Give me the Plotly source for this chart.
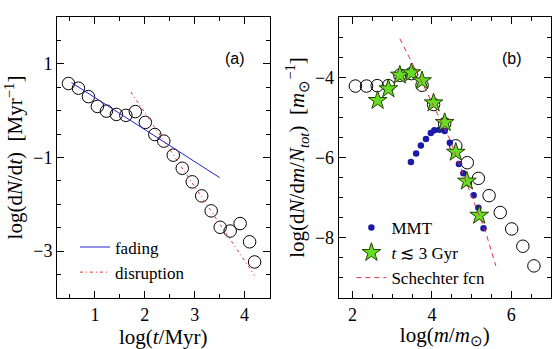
import plotly.graph_objects as go

# ---- panel (a) data ----
a_logt = [0.47, 0.67, 0.87, 1.05, 1.23, 1.43, 1.62, 1.81, 2.01, 2.20, 2.38, 2.57,
          2.75, 2.95, 3.14, 3.33, 3.51, 3.71, 3.91, 4.10, 4.20]
a_logdndt = [0.58, 0.48, 0.30, 0.09, -0.01, -0.08, -0.10, -0.02, -0.25, -0.51, -0.65, -0.95,
             -1.23, -1.52, -1.82, -2.14, -2.49, -2.57, -2.41, -2.80, -3.23]
fading_x = [0.53, 3.50]
fading_y = [0.60, -1.43]
disruption_x = [1.72, 4.20]
disruption_y = [0.40, -3.52]

# ---- panel (b) data ----
b_logm = [2.07, 2.35, 2.62, 2.90, 3.19, 3.48, 3.75, 4.04, 4.32, 4.60, 4.89, 5.17,
          5.44, 5.72, 6.01, 6.29, 6.57]
b_logdndm = [-4.22, -4.22, -4.21, -4.21, -3.95, -3.91, -4.20, -4.68, -5.16, -5.71, -6.13, -6.52,
             -6.95, -7.37, -7.78, -8.21, -8.70]
young_logm = [2.63, 2.90, 3.19, 3.48, 3.75, 4.04, 4.32, 4.60, 4.88, 5.19]
young_logdndm = [-4.58, -4.29, -3.95, -3.89, -4.09, -4.64, -5.13, -5.87, -6.59, -7.44]
mmt_logm = [3.47, 3.60, 3.72, 3.85, 3.97, 4.06, 4.19, 4.32, 4.45, 4.56, 4.68, 4.79,
            4.93, 5.05, 5.17, 5.30]
mmt_logdndm = [-6.11, -5.90, -5.70, -5.54, -5.39, -5.32, -5.31, -5.34, -5.63, -5.90, -6.16, -6.39,
               -6.65, -6.94, -7.25, -7.76]
sch_logm = [3.19, 3.45, 3.89, 4.43, 4.85, 5.36, 5.61]
sch_logdndm = [-3.04, -3.55, -4.41, -5.51, -6.57, -7.88, -8.70]

SERIF = "Liberation Serif"
fig = go.Figure()

# panel (a)
fig.add_trace(go.Scatter(x=a_logt, y=a_logdndt, mode="markers", showlegend=False,
                         marker=dict(symbol="circle-open", size=12.5, color="black", line=dict(width=1)),
                         xaxis="x", yaxis="y"))
fig.add_trace(go.Scatter(x=fading_x, y=fading_y, mode="lines", name="fading",
                         line=dict(color="#2222cc", width=1), xaxis="x", yaxis="y", legend="legend"))
fig.add_trace(go.Scatter(x=disruption_x, y=disruption_y, mode="lines", name="disruption",
                         line=dict(color="#dd3333", width=1, dash="3px,3px,1px,3px"), xaxis="x", yaxis="y",
                         legend="legend"))

# panel (b)
fig.add_trace(go.Scatter(x=b_logm, y=b_logdndm, mode="markers", showlegend=False,
                         marker=dict(symbol="circle-open", size=12.5, color="black", line=dict(width=1)),
                         xaxis="x2", yaxis="y2"))
fig.add_trace(go.Scatter(x=mmt_logm, y=mmt_logdndm, mode="markers", name="MMT",
                         marker=dict(symbol="circle", size=6.5, color="#1a1aa8"),
                         xaxis="x2", yaxis="y2", legend="legend2"))
fig.add_trace(go.Scatter(x=young_logm, y=young_logdndm, mode="markers", name="<i>t</i> ≲ 3 Gyr",
                         marker=dict(symbol="star", size=14, color="#66dd22",
                                     line=dict(color="#224400", width=1)),
                         xaxis="x2", yaxis="y2", legend="legend2"))
fig.add_trace(go.Scatter(x=sch_logm, y=sch_logdndm, mode="lines", name="Schechter fcn",
                         line=dict(color="#dd3344", width=1, dash="5px,4px"),
                         xaxis="x2", yaxis="y2", legend="legend2"))

tickfont = dict(family=SERIF, size=18, color="black")
titlefont = dict(family=SERIF, size=21, color="black")
common = dict(showgrid=False, zeroline=False, showline=True, linecolor="black", linewidth=1,
              mirror="allticks", ticks="inside", ticklen=7, tickcolor="black", tickfont=tickfont)

fig.update_layout(
    width=560, height=349,
    margin=dict(l=57, r=8, t=17, b=45),
    paper_bgcolor="white", plot_bgcolor="white",
    font=dict(family=SERIF, color="black"),
    xaxis=dict(domain=[0, 0.4303], range=[0.24, 4.5], tickvals=[1, 2, 3, 4], ticktext=["1", "2", "3", "4"],
               minor=dict(dtick=0.5, tick0=0, ticks="inside", ticklen=4, tickcolor="black"),
               title=dict(text="log(<i>t</i>/Myr)", font=titlefont, standoff=2), anchor="y", **common),
    yaxis=dict(domain=[0, 1], range=[-4, 2], tickvals=[1, -1, -3], ticktext=["1", "−1", "−3"],
               minor=dict(dtick=0.5, tick0=0, ticks="inside", ticklen=4, tickcolor="black"),
               title=dict(text="log(d<i>N</i>/d<i>t</i>)  [Myr<sup>−1</sup>]", font=titlefont, standoff=4),
               anchor="x", **common),
    xaxis2=dict(domain=[0.5703, 1], range=[1.65, 7.0], tickvals=[2, 4, 6], ticktext=["2", "4", "6"],
                minor=dict(dtick=0.5, tick0=0, ticks="inside", ticklen=4, tickcolor="black"),
                title=dict(text="log(<i>m</i>/<i>m</i><sub>⊙</sub>)", font=titlefont, standoff=2),
                anchor="y2", **common),
    yaxis2=dict(domain=[0, 1], range=[-9.5, -2.5], tickvals=[-4, -6, -8], ticktext=["−4", "−6", "−8"],
                minor=dict(dtick=0.5, tick0=0, ticks="inside", ticklen=4, tickcolor="black"),
                title=dict(text="log(d<i>N</i>/d<i>m</i>/<i>N<sub>tot</sub></i>)  [<i>m</i><sub>⊙</sub><sup>−1</sup>]",
                           font=titlefont, standoff=4),
                anchor="x2", **common),
    legend=dict(x=(75 - 57) / 495, y=(349 - 45 - 234) / 287, xanchor="left", yanchor="top",
                bgcolor="rgba(0,0,0,0)", font=dict(family=SERIF, size=17, color="black"),
                tracegroupgap=0, itemwidth=30),
    legend2=dict(x=(352 - 57) / 495, y=(349 - 45 - 214) / 287, xanchor="left", yanchor="top",
                 bgcolor="rgba(0,0,0,0)", font=dict(family=SERIF, size=17, color="black"),
                 tracegroupgap=0, itemwidth=30),
    annotations=[
        dict(text="(a)", x=235, y=49, xref="paper", yref="paper", showarrow=False,
             font=dict(family="Liberation Sans", size=16, color="black")),
        dict(text="(b)", x=525, y=49, xref="paper", yref="paper", showarrow=False,
             font=dict(family="Liberation Sans", size=16, color="black")),
    ],
)
# convert annotation pixel positions to paper coords
for ann in fig.layout.annotations:
    ann.x = (ann.x - 57) / 495
    ann.y = (349 - 45 - ann.y) / 287

fig.write_html("out.html")
